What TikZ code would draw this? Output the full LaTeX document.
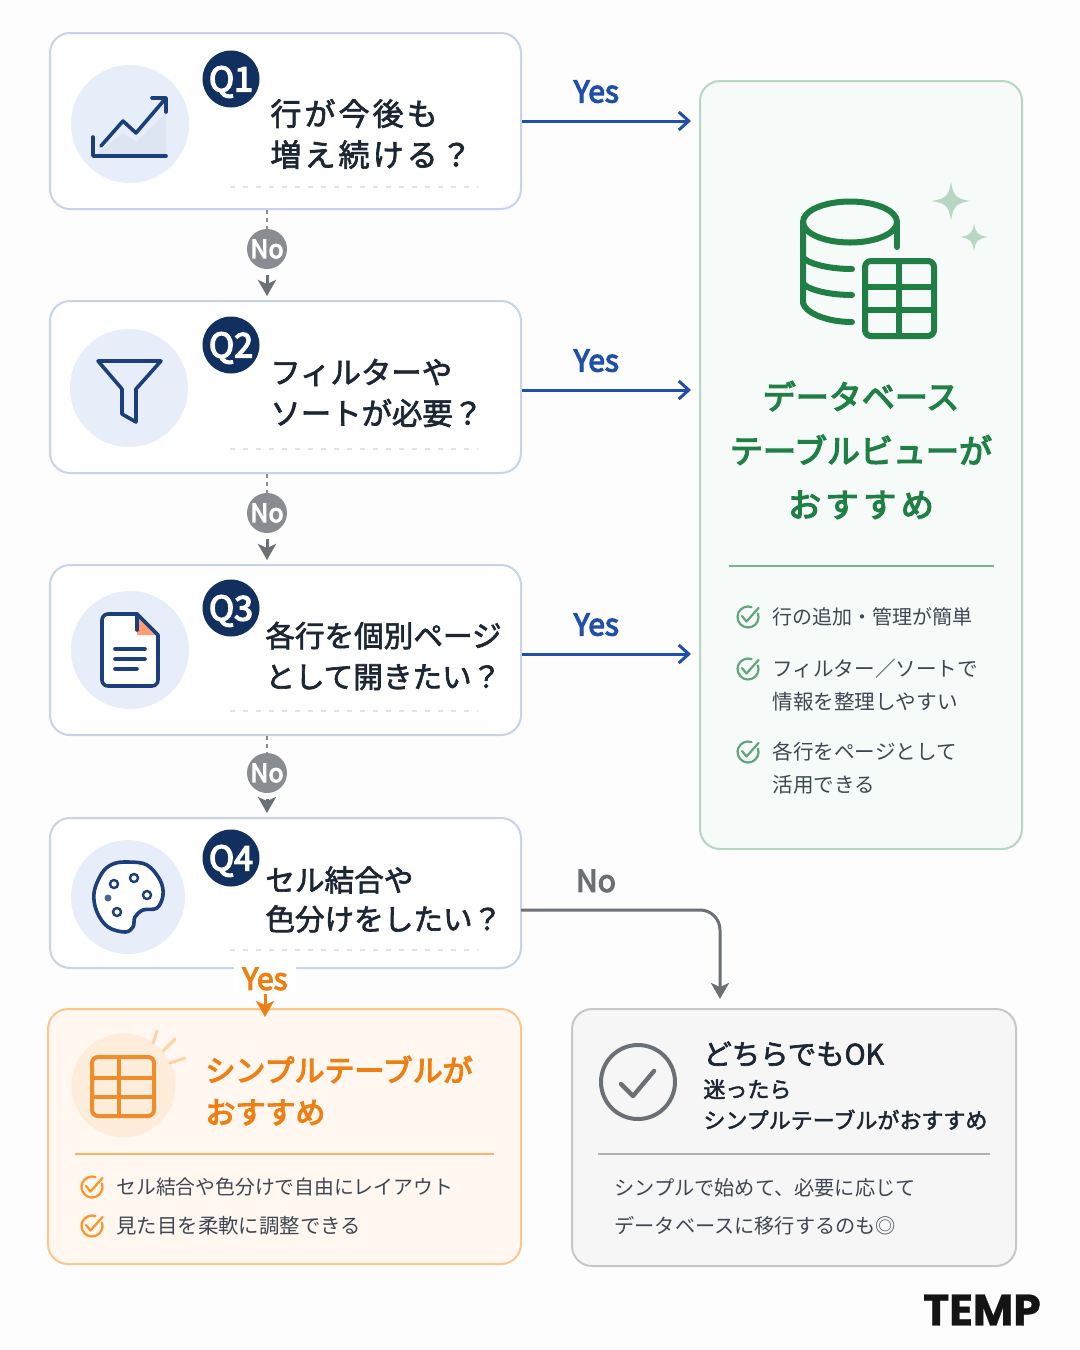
\documentclass[tikz,border=0pt]{standalone}
\usepackage{fontspec}
\setmainfont{Noto Sans CJK JP}
\newfontfamily\cjkm[FakeBold=2.2]{Noto Sans CJK JP}
\newfontfamily\cjkw[FakeBold=2.2,LetterSpace=10]{Noto Sans CJK JP}
\newfontfamily\cjkb[FakeBold=4]{Noto Sans CJK JP}
\newfontfamily\logof[FakeBold=0.6]{Poppins Bold}
\usetikzlibrary{arrows.meta,positioning}

\definecolor{pagebg}{HTML}{FDFDFE}
\definecolor{navy}{HTML}{12305F}
\definecolor{iconblue}{HTML}{1B3F7A}
\definecolor{paleblue}{HTML}{E7EEF9}
\definecolor{qborder}{HTML}{C8D3EA}
\definecolor{qtext}{HTML}{1D2733}
\definecolor{yesblue}{HTML}{1F4FA8}
\definecolor{nogray}{HTML}{6B6F76}
\definecolor{dbgreen}{HTML}{1F7F45}
\definecolor{orangeq}{HTML}{EE7F12}

\tikzset{
	qbox/.style={rectangle, draw=qborder, fill=white, rounded corners=10pt, line width=1pt, inner sep=0pt},
	badge/.style={circle, fill=navy, text=white, minimum size=28.5pt, inner sep=0pt, text height=12.5pt, text depth=0pt, font=\cjkb\fontsize{17}{17}\selectfont},
	nobadge/.style={circle, fill=nogray!80, text=white, minimum size=20pt, inner sep=0pt, font=\cjkb\fontsize{12.5}{12.5}\selectfont},
	qlabel/.style={anchor=west, align=left, inner sep=0pt, text=qtext, font=\cjkm\fontsize{14.8}{20.5}\selectfont},
	itemlabel/.style={anchor=west, align=left, inner sep=0pt, text=qtext!85, font=\fontsize{10.3}{16.5}\selectfont},
	yesflow/.style={draw=yesblue, line width=1.5pt, -{Straight Barb[length=5pt,width=9pt]}, shorten >=4pt},
	yeslabel/.style={text=yesblue, font=\cjkb\fontsize{15}{15}\selectfont},
	noflow/.style={draw=nogray, line width=1.5pt, -{Stealth[length=8pt,width=9pt,inset=2pt]}},
	iconline/.style={draw=iconblue, line width=1.8pt, line join=round, line cap=round},
	dbline/.style={draw=dbgreen, line width=3pt, line join=round, line cap=round},
}

% check mark in an open ring
\newcommand{\okmark}[3]{
	\begin{scope}[shift={(#1,#2)}]
		\draw[draw=#3, line width=1.1pt, line cap=round] (9.9,-3.6) arc[start angle=-20, delta angle=310, radius=10.5];
		\draw[draw=#3, line width=1.1pt, line cap=round, line join=round] (-6,-1) -- (-1.5,4.5) -- (10.5,-9);
	\end{scope}
}
\newcommand{\sparkle}[3]{
	\begin{scope}[shift={(#1,#2)},scale=#3]
		\fill[dbgreen!32] (0,-1) .. controls (.12,-.25) and (.25,-.12) .. (1,0) .. controls (.25,.12) and (.12,.25) .. (0,1) .. controls (-.12,.25) and (-.25,.12) .. (-1,0) .. controls (-.25,-.12) and (-.12,-.25) .. (0,-1) -- cycle;
	\end{scope}
}

\begin{document}
\begin{tikzpicture}[x=.5pt,y=-.5pt]
	\fill[pagebg] (0,0) rectangle (1080,1350);
	\useasboundingbox (0,0) rectangle (1080,1350);

	% boxes
	\node[qbox, minimum width=235.5pt, minimum height=88pt] (q_1) at (285.5,121) {};
	\node[qbox, minimum width=235.5pt, minimum height=86pt] (q_2) at (285.5,387) {};
	\node[qbox, minimum width=235.5pt, minimum height=85pt] (q_3) at (285.5,650) {};
	\node[qbox, minimum width=235.5pt, minimum height=75pt] (q_4) at (285.5,893) {};
	\node[qbox, draw=dbgreen!32, fill=dbgreen!4, minimum width=161pt, minimum height=384pt] (db) at (861,465) {};
	\node[qbox, draw=orange!45, fill=orange!6, minimum width=236.5pt, minimum height=127.5pt] (simple) at (284.5,1136.5) {};
	\node[qbox, draw=black!22, fill=black!3.5, minimum width=222pt, minimum height=128.5pt] (either) at (794,1137.5) {};

	% helper points for the side arrows
	\coordinate (t_2) at (db.west |- 0,390);
	\coordinate (t_3) at (db.west |- 0,654);
	\coordinate (t_4) at (521,910);
	\coordinate (t_5) at (720,0 |- either.north);

	% badges
	\node[badge] (b_1) at (231,79) {Q1};
	\node[badge] (b_2) at (231,345) {Q2};
	\node[badge] (b_3) at (231,608) {Q3};
	\node[badge] (b_4) at (231,858) {Q4};

	\node[qlabel, font=\cjkw\fontsize{15.5}{20.5}\selectfont] (l_1) at (270,134) {行が今後も\\増え続ける？};
	\node[qlabel, font=\cjkm\fontsize{15.2}{20.5}\selectfont] (l_2) at (270,393) {フィルターや\\ソートが必要？};
	\node[qlabel] (l_3) at (265,656) {各行を個別ページ\\として開きたい？};
	\node[qlabel, font=\cjkm\fontsize{14.8}{19.5}\selectfont] (l_4) at (265,899.5) {セル結合や\\色分けをしたい？};

	% dotted rules in the question boxes
	\foreach \y in {187,449,711,950}
		\draw[black!11, line width=.8pt, dash pattern=on 2.5pt off 4pt] (230,\y) -- (478,\y);

	% no badges
	\node[nobadge] (n_1) at (267,249) {No};
	\node[nobadge] (n_2) at (267,513) {No};
	\node[nobadge] (n_3) at (267,773) {No};
	\path
		(n_1 |- q_1.south) edge[draw=nogray!80, line width=1.2pt, dash pattern=on 2pt off 2pt] (n_1)
		(n_2 |- q_2.south) edge[draw=nogray!80, line width=1.2pt, dash pattern=on 2pt off 2pt] (n_2)
		(n_3 |- q_3.south) edge[draw=nogray!80, line width=1.2pt, dash pattern=on 2pt off 2pt] (n_3);
	\path
		(n_1) edge[noflow, shorten <=3pt, shorten >=2pt] (n_1 |- q_2.north)
		(n_2) edge[noflow, shorten <=3pt, shorten >=2pt] (n_2 |- q_3.north)
		(n_3) edge[noflow, shorten <=3pt, shorten >=2pt] (n_3 |- q_4.north);

	% yes arrows
	\path
		(q_1.east) edge[yesflow] node[yeslabel, pos=.42, above=5pt] (y_1) {Yes} (q_1.east -| db.west)
		(q_2.east |- t_2) edge[yesflow] node[yeslabel, pos=.42, above=5pt] (y_2) {Yes} (t_2)
		(q_3.east |- t_3) edge[yesflow] node[yeslabel, pos=.42, above=5pt] (y_3) {Yes} (t_3);

	% q4 outcomes
	\draw[noflow, rounded corners=10pt, shorten >=4.5pt] (t_4) -| (t_5);
	\node[text=nogray, font=\cjkb\fontsize{15}{15}\selectfont] (y_5) at (596,881) {No};
	\node[fill=white, text=orangeq, inner sep=0pt, minimum width=31pt, minimum height=13pt, font=\cjkb\fontsize{15}{15}\selectfont] (y_4) at (265,979) {Yes};
	\path (y_4) edge[draw=orangeq, line width=1.5pt, -{Stealth[length=8pt,width=9pt,inset=2pt]}, shorten <=1pt, shorten >=-4.5pt] (y_4 |- simple.north);

	% chart icon
	\fill[paleblue] (130,124) circle[radius=59];
	\fill[yesblue!15] (95,155) -- (123,133) -- (136,142) -- (166,113) -- (166,155) -- cycle;
	\draw[iconline] (93,137) -- (93,156) -- (166,156);
	\draw[iconline] (101,146) -- (123,121) -- (136,133) -- (166,98);
	\draw[iconline] (152,98) -- (166,98) -- (166,112);

	% funnel icon
	\fill[paleblue] (129,388) circle[radius=59];
	\draw[iconline] (98,361) -- (161,361) -- (136,389) -- (136,422) -- (122,414) -- (122,389) -- cycle;

	% page icon
	\fill[paleblue] (130,650) circle[radius=59];
	\fill[white] (102,614) -- (137,614) -- (158,635) -- (158,686) -- (102,686) -- cycle;
	\fill[red!40!orange!55] (137,616) -- (157,635) -- (137,635) -- cycle;
	\draw[iconline, rounded corners=3pt] (137,614) -- (102,614) -- (102,686) -- (158,686) -- (158,635);
	\draw[iconline] (137,614) -- (158,635);
	\draw[iconline] (137,614) -- (137,630);
	\draw[iconline] (115,649) -- (145,649);
	\draw[iconline] (115,659) -- (145,659);
	\draw[iconline] (115,669) -- (137,669);

	% palette icon
	\fill[paleblue] (128,897) circle[radius=57];
	\draw[iconline, fill=white] plot[smooth cycle, tension=.6] coordinates {(128,862) (147,865) (160,880) (163,895) (157,908) (143,910) (135,917) (133,927) (125,932) (108,927) (97,912) (94,893) (102,873) (113,864)};
	\foreach \px/\py in {114/884, 134/878, 147/895, 117/912}
		\draw[draw=iconblue, line width=1.2pt] (\px,\py) circle[radius=4];
	\fill[iconblue!80] (108,898) circle[radius=3.5];

	% database icon
	\draw[dbline] (850,222) ellipse[x radius=47, y radius=20.5];
	\draw[dbline] (803,222) -- (803,303) .. controls (805,312) and (825,322) .. (852,322);
	\draw[dbline] (803,257) .. controls (805,262) and (825,269) .. (852,269);
	\draw[dbline] (803,283) .. controls (805,288) and (825,295) .. (852,295);
	\draw[dbline] (897,222) -- (897,247);
	\draw[dbline, rounded corners=3pt] (865,261) rectangle (934,336);
	\draw[dbline] (899,261) -- (899,336);
	\draw[dbline] (865,287) -- (934,287);
	\draw[dbline] (865,310) -- (934,310);
	\sparkle{951}{201}{19.5}
	\sparkle{974}{237}{14}

	\node[text=dbgreen, align=center, font=\cjkb\fontsize{16.5}{27}\selectfont] (d_t) at (861,450) {データベース\\テーブルビューが\\{\addfontfeature{LetterSpace=14}おすすめ}};
	\draw[dbgreen!60, line width=.8pt] (729,566) -- (994,566);
	\okmark{748}{617}{dbgreen!70}
	\okmark{748}{669}{dbgreen!70}
	\okmark{748}{752}{dbgreen!70}
	\node[itemlabel, font=\fontsize{10}{16.5}\selectfont] (d_1) at (772,617) {行の追加・管理が簡単};
	\node[itemlabel] (d_2) at (772,685.5) {フィルター／ソートで\\情報を整理しやすい};
	\node[itemlabel] (d_3) at (772,768.5) {各行をページとして\\活用できる};

	% simple table panel
	\fill[orange!14] (123.5,1085.5) circle[radius=52];
	\draw[orange!35, line width=1.5pt, line cap=round] (153,1043) -- (157,1031);
	\draw[orange!35, line width=1.5pt, line cap=round] (163,1051) -- (175,1039);
	\draw[orange!35, line width=1.5pt, line cap=round] (170,1063) -- (185,1058);
	\draw[draw=orangeq!90, line width=2pt, rounded corners=3pt] (92,1057) rectangle (154,1116);
	\draw[draw=orangeq!90, line width=2pt] (119,1057) -- (119,1116);
	\draw[draw=orangeq!90, line width=2pt] (92,1078) -- (154,1078);
	\draw[draw=orangeq!90, line width=2pt] (92,1097) -- (154,1097);
	\node[anchor=west, align=left, inner sep=0pt, text=orangeq, font=\cjkb\fontsize{15}{21}\selectfont] (s_t) at (205,1090.5) {シンプルテーブルが\\おすすめ};
	\draw[orange!60, line width=.8pt] (75,1154) -- (494,1154);
	\okmark{92}{1187}{orange!85}
	\okmark{92}{1226}{orange!85}
	\node[itemlabel, font=\fontsize{9.9}{9.9}\selectfont] (s_1) at (116,1187) {セル結合や色分けで自由にレイアウト};
	\node[itemlabel, font=\fontsize{10.2}{10.2}\selectfont] (s_2) at (116,1226) {見た目を柔軟に調整できる};

	% either panel
	\draw[draw=nogray, line width=2pt] (638,1082) circle[radius=37];
	\draw[draw=nogray, line width=2.2pt, line cap=round, line join=round] (621,1084) -- (633,1096) -- (654,1071);
	\node[qlabel, font=\cjkm\fontsize{14.2}{14.2}\selectfont] (e_t) at (703,1054) {どちらでもOK};
	\node[anchor=west, align=left, inner sep=0pt, text=qtext, font=\cjkm\fontsize{11}{15.5}\selectfont] (e_1) at (703,1104.5) {迷ったら\\シンプルテーブルがおすすめ};
	\draw[black!30, line width=.8pt] (598,1154) -- (990,1154);
	\node[itemlabel, font=\fontsize{10.1}{19}\selectfont] (e_2) at (614,1207) {シンプルで始めて、必要に応じて\\データベースに移行するのも◎};

	\node[text=black!92, font=\logof\fontsize{22}{22}\selectfont] (logo) at (982,1310) {TEMP};
\end{tikzpicture}
\end{document}
